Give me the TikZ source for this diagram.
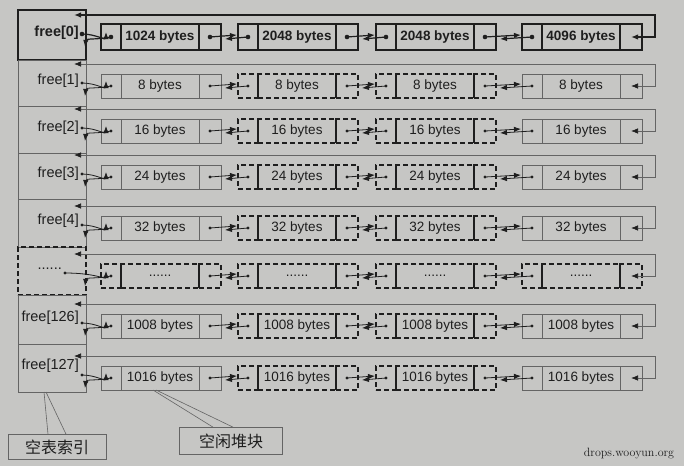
\documentclass[tikz,border=0pt]{standalone}
\usepackage{fontspec}
\newfontfamily\arial{Liberation Sans}
\newfontfamily\cjk{Noto Sans CJK SC}
\usetikzlibrary{arrows.meta}
\definecolor{bg}{RGB}{198,198,196}
\definecolor{ink}{RGB}{30,30,30}
\definecolor{thin}{RGB}{100,100,100}
\tikzset{
  base/.style={inner sep=0pt, outer sep=0pt, text=ink, minimum height=24pt,
    font=\arial\fontsize{13.5}{14}\selectfont},
  endN/.style={base, draw=thin, line width=0.6pt},
  midN/.style={base, draw=ink, line width=1.3pt, dash pattern=on 5pt off 3pt},
  endB/.style={base, draw=ink, line width=1.4pt, minimum height=26pt,
    font=\arial\bfseries\fontsize{13.5}{14}\selectfont},
  midB/.style={endB},
  endD/.style={midN},
  midD/.style={midN},
  idxN/.style={base, draw=thin, line width=0.6pt},
  idxB/.style={base, draw=ink, line width=1.4pt},
  idxD/.style={midN},
  labN/.style={inner sep=0pt, text=ink, font=\arial\fontsize{14.5}{16}\selectfont},
  labB/.style={inner sep=0pt, text=ink, font=\arial\bfseries\fontsize{14.5}{16}\selectfont},
  labD/.style={labN},
  hd/.tip={Latex[length=7pt,width=5.5pt,color=ink]},
  arrN/.style={-hd, draw=ink, line width=0.8pt},
  arrB/.style={-hd, draw=ink, line width=1.2pt},
  arrD/.style={arrN},
  loopN/.style={hd-hd, draw=thin, line width=0.7pt},
  loopB/.style={hd-hd, draw=ink, line width=1.4pt},
  loopD/.style={loopN},
  dotN/.style={fill=ink, radius=1.7pt},
  dotB/.style={fill=ink, radius=2.3pt},
  dotD/.style={dotN},
  callbox/.style={draw=thin, line width=0.7pt, inner sep=0pt, text=ink,
    font=\cjk\fontsize{16}{18}\selectfont},
  callline/.style={draw=thin, line width=0.6pt},
}
\newcommand\SetKind[1]{\tikzset{endS/.style={end#1},midS/.style={mid#1},
  idxS/.style={idx#1},labS/.style={lab#1},arrS/.style={arr#1},
  loopS/.style={loop#1},dotS/.style={dot#1}}}
\newcommand\Blk[5]{%
  \node[#5, minimum width=20pt, anchor=west] (#1L) at (#2,#3) {};
  \node[#5, minimum width=78pt, anchor=west] (#1M) at (#1L.east) {#4};
  \node[#5, minimum width=22pt, anchor=west] (#1R) at (#1M.east) {};
}
\newcommand\Link[2]{%
  \draw[arrS] (#1R.center) -- ([xshift=-1pt,yshift=2pt]#2L.west);
  \draw[arrS] (#2L.center) -- ([xshift=4pt,yshift=-2pt]#1R.east);
}
\newcommand\HRow[9]{% #1 id #2 T #3 B #4 C #5 L #6 label #7 first #8 mid #9 last
  \pgfmathsetmacro\Hh{#3-#2}
  \node[idxS, minimum width=68pt, minimum height=\Hh pt, anchor=north west] (#1I) at (18,#2) {};
  \node[labS, anchor=east] (#1T) at (\LabX,{(#2+#3)/2-2}) {#6};
  \coordinate (#1h) at ({\LabX+3},{#4-3});
  \Blk{#1a}{101}{#4}{#7}{endS}
  \Blk{#1b}{238}{#4}{#8}{midS}
  \Blk{#1c}{376}{#4}{#8}{midS}
  \Blk{#1d}{522}{#4}{#9}{endS}
  \fill[dotS] (#1h) circle;
  \fill[dotS] (#1aL.center) circle; \fill[dotS] (#1aR.center) circle;
  \fill[dotS] (#1bL.center) circle; \fill[dotS] (#1bR.center) circle;
  \fill[dotS] (#1cL.center) circle; \fill[dotS] (#1cR.center) circle;
  \fill[dotS] (#1dL.center) circle;
  \Link{#1a}{#1b}
  \Link{#1b}{#1c}
  \Link{#1c}{#1d}
  \draw[arrS] (#1h) .. controls (96,{#4-3}) and (106,{#4+4}) .. (106,{#4-5});
  \draw[arrS] (#1aL.center) .. controls (96,{#4+3}) and (86,{#4+1}) .. (85,{#4+10});
  \draw[loopS] (#1dR.center) -- (655,#4) -- (655,#5) -- (74,#5);
}
\begin{document}
\begin{tikzpicture}[x=1pt,y=-1pt]
\fill[bg] (0,0) rectangle (684,466);
\useasboundingbox (0,0) rectangle (684,466);
\def\LabX{79}
\SetKind{B}
\HRow{r0}{10}{60}{37}{15}{free[0]}{1024 bytes}{2048 bytes}{4096 bytes}
\SetKind{N}
\HRow{r1}{60}{106}{86}{64}{free[1]}{8 bytes}{8 bytes}{8 bytes}
\HRow{r2}{106}{153}{131}{109}{free[2]}{16 bytes}{16 bytes}{16 bytes}
\HRow{r3}{153}{199}{177}{155}{free[3]}{24 bytes}{24 bytes}{24 bytes}
\HRow{r4}{199}{247}{228}{206}{free[4]}{32 bytes}{32 bytes}{32 bytes}
\def\LabX{62}
\SetKind{D}
\HRow{r5}{247}{295}{276}{254}{......}{......}{......}{......}
\def\LabX{79}
\SetKind{N}
\HRow{r6}{295}{344}{326}{304}{free[126]}{1008 bytes}{1008 bytes}{1008 bytes}
\HRow{r7}{344}{392}{378}{356}{free[127]}{1016 bytes}{1016 bytes}{1016 bytes}
% callouts
\node[callbox, minimum width=98pt, minimum height=25pt] (k1) at (57,447) {空表索引};
\node[callbox, minimum width=103pt, minimum height=27pt] (k2) at (231,441) {空闲堆块};
\coordinate (p1) at ([xshift=-8pt]r7I.south);
\coordinate (p2) at ([xshift=-6pt]r7I.south);
\draw[callline] (p1) -- ([xshift=-9pt]k1.north);
\draw[callline] (p2) -- ([xshift=9pt]k1.north);
\coordinate (q1) at ([xshift=-7pt]r7aM.south);
\coordinate (q2) at ([xshift=-4pt]r7aM.south);
\draw[callline] (q1) -- ([xshift=-18pt]k2.north);
\draw[callline] (q2) -- ([xshift=2pt]k2.north);
\node[text=ink, font=\rmfamily\fontsize{12}{14}\selectfont] (wm) at (629,454) {drops.wooyun.org};
\end{tikzpicture}
\end{document}
